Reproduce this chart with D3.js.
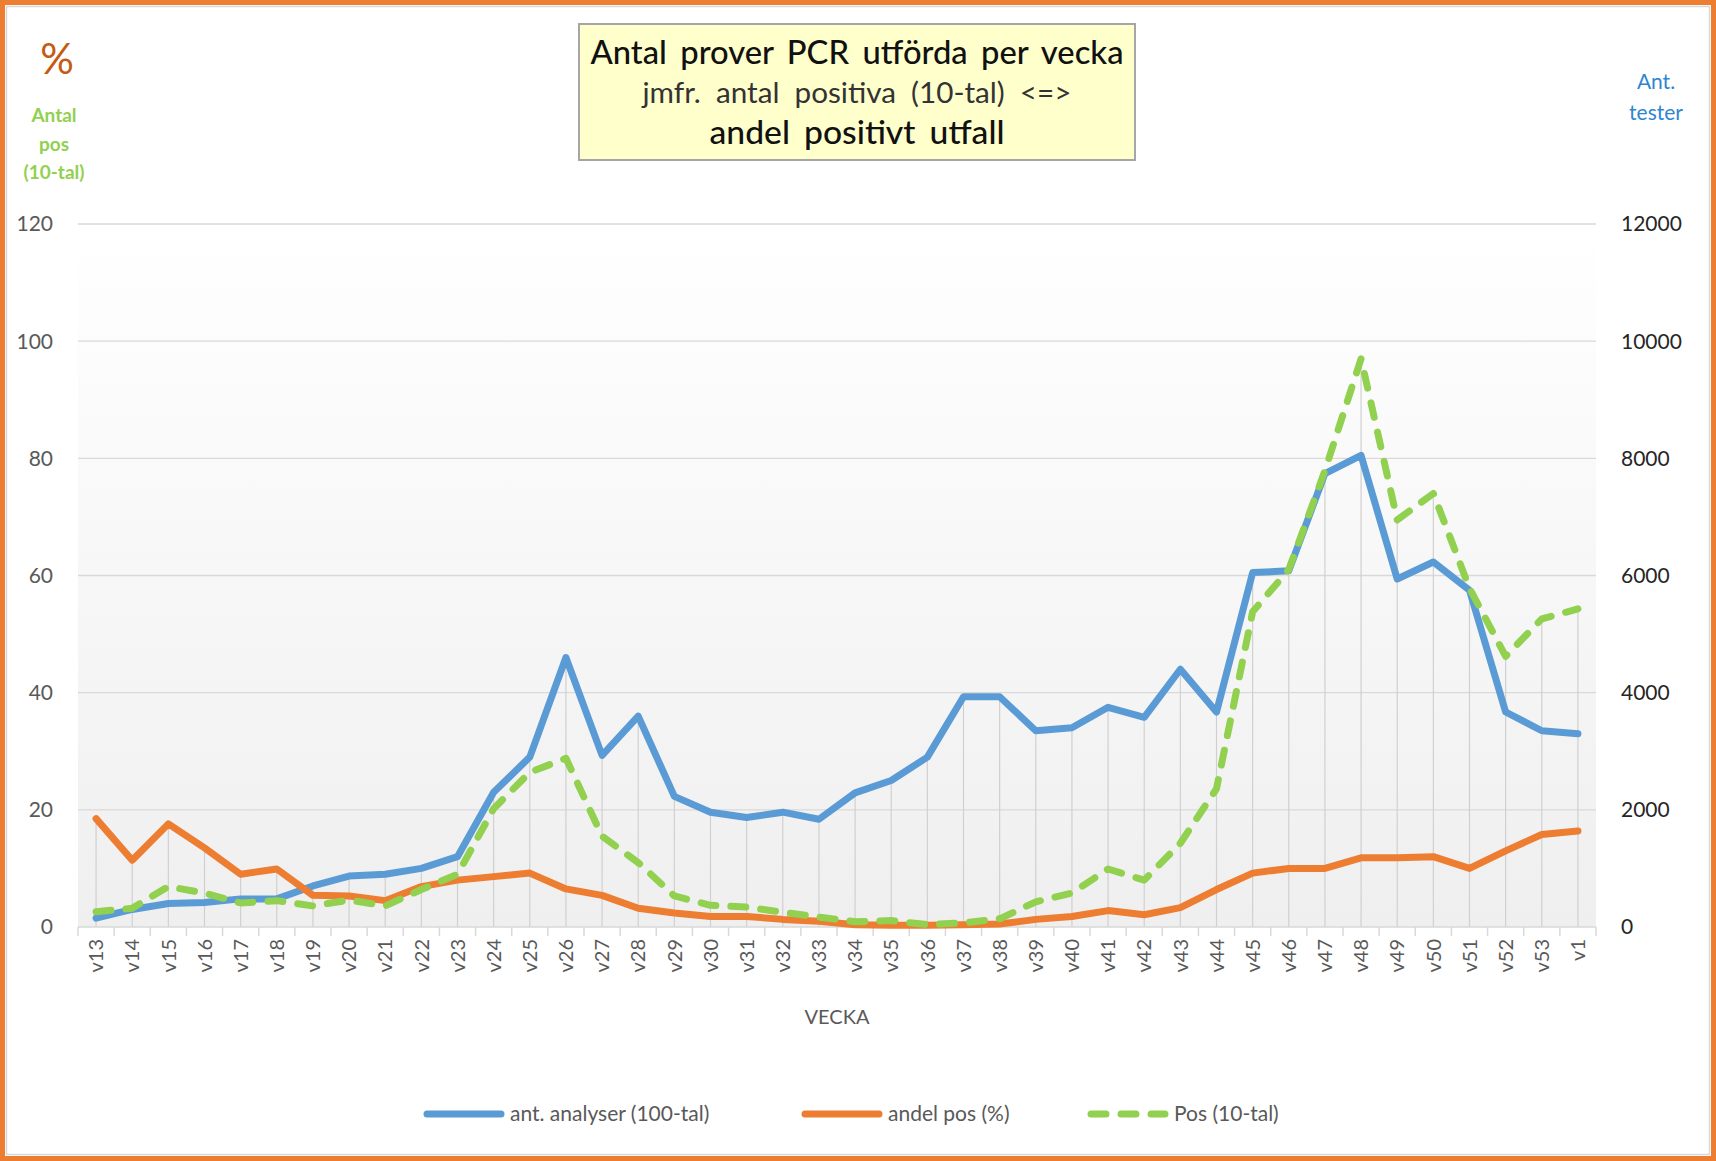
<!DOCTYPE html>
<html>
<head>
  <meta charset="UTF-8">
  <style>
    body { margin: 0; background: #fff; }
    svg { display: block; font-family: Lato, "Noto Sans", sans-serif; }
  </style>
</head>
<body>
  <svg id="chart"></svg>
  <script src="https://d3js.org/d3.v7.min.js"></script>
  <script>
    let width = 1716, height = 1161;

    // data
    const weeks = ["v13","v14","v15","v16","v17","v18","v19","v20","v21","v22","v23","v24","v25","v26","v27","v28","v29","v30","v31","v32","v33","v34","v35","v36","v37","v38","v39","v40","v41","v42","v43","v44","v45","v46","v47","v48","v49","v50","v51","v52","v53","v1"];
    // ant. analyser (number of tests, right axis)
    const analyser = [150,300,400,420,480,480,700,870,900,1000,1200,2300,2900,4600,2930,3600,2230,1960,1870,1960,1840,2290,2500,2900,3930,3930,3350,3400,3750,3580,4400,3670,6050,6080,7740,8050,5940,6230,5750,3670,3350,3300];
    // andel pos (%)
    const andelPos = [18.5,11.4,17.6,13.5,9,9.9,5.4,5.3,4.5,6.9,8,8.6,9.2,6.5,5.4,3.2,2.4,1.8,1.8,1.3,1,0.4,0.3,0.3,0.4,0.5,1.3,1.8,2.8,2.1,3.3,6.4,9.2,10,10,11.8,11.8,12,10,13,15.8,16.4];
    // Pos (10-tal)
    const pos10 = [2.6,3.2,6.9,5.8,4.1,4.5,3.6,4.6,3.6,6.4,9,20.2,26.4,28.8,15.5,11,5.3,3.7,3.4,2.5,1.7,0.9,1.1,0.4,0.7,1.4,4.3,5.8,9.9,8,14.3,23.6,53.8,61,77.9,97,69.5,74,57.8,46.2,52.6,54.3];
    const leftTicks = [0,20,40,60,80,100,120];
    const rightTicks = [0,2000,4000,6000,8000,10000,12000];

    const blue = "#5B9BD5", orange = "#ED7D31", green = "#92D050";

    let svg = d3.select("#chart")
      .attr("width", width)
      .attr("height", height);

    const plotLeft = 78, plotRight = 1596, plotTop = 224, plotBottom = 927;

    let x = d3.scaleBand().domain(weeks).range([plotLeft, plotRight]);
    let yL = d3.scaleLinear().domain([0, 120]).range([plotBottom, plotTop]);
    let yR = d3.scaleLinear().domain([0, 12000]).range([plotBottom, plotTop]);
    const cx = d => x(d) + x.bandwidth() / 2;

    // background gradient of plot area
    let defs = svg.append("defs");
    let grad = defs.append("linearGradient").attr("id", "bg")
      .attr("x1", 0).attr("y1", 0).attr("x2", 0).attr("y2", 1);
    grad.append("stop").attr("offset", "0%").attr("stop-color", "#ffffff");
    grad.append("stop").attr("offset", "100%").attr("stop-color", "#efefef");

    svg.append("rect")
      .attr("x", plotLeft).attr("y", plotTop)
      .attr("width", plotRight - plotLeft).attr("height", plotBottom - plotTop)
      .attr("fill", "url(#bg)");

    // horizontal gridlines
    svg.append("g").selectAll("line")
      .data(leftTicks.slice(1))
      .enter().append("line")
      .attr("x1", plotLeft).attr("x2", plotRight)
      .attr("y1", d => yL(d)).attr("y2", d => yL(d))
      .attr("stroke", "#d9d9d9").attr("stroke-width", 1.3);

    // drop lines
    svg.append("g").selectAll("line")
      .data(weeks)
      .enter().append("line")
      .attr("x1", d => cx(d)).attr("x2", d => cx(d))
      .attr("y1", plotBottom)
      .attr("y2", (d, i) => yL(Math.max(analyser[i] / 100, andelPos[i], pos10[i])))
      .attr("stroke", "#d0d0d0").attr("stroke-width", 1.2);

    // x axis
    let xAxis = svg.append("g");
    xAxis.append("line")
      .attr("x1", plotLeft).attr("x2", plotRight)
      .attr("y1", plotBottom).attr("y2", plotBottom)
      .attr("stroke", "#d9d9d9").attr("stroke-width", 1.5);
    xAxis.selectAll("line.tick")
      .data(weeks.concat(["end"]))
      .enter().append("line").attr("class", "tick")
      .attr("x1", (d, i) => plotLeft + i * x.bandwidth())
      .attr("x2", (d, i) => plotLeft + i * x.bandwidth())
      .attr("y1", plotBottom).attr("y2", plotBottom + 9)
      .attr("stroke", "#d9d9d9").attr("stroke-width", 1.5);
    xAxis.selectAll("text")
      .data(weeks)
      .enter().append("text")
      .attr("transform", d => "translate(" + cx(d) + "," + (plotBottom + 12) + ") rotate(-90)")
      .attr("text-anchor", "end")
      .attr("dy", "0.36em")
      .attr("fill", "#595959")
      .style("font-size", "20px")
      .text(d => d);

    svg.append("text")
      .attr("x", 837).attr("y", 1024)
      .attr("text-anchor", "middle")
      .attr("fill", "#595959")
      .style("font-size", "20px")
      .text("VECKA");

    // left axis labels
    svg.append("g").selectAll("text")
      .data(leftTicks)
      .enter().append("text")
      .attr("x", 53).attr("y", d => yL(d))
      .attr("dy", "0.35em")
      .attr("text-anchor", "end")
      .attr("fill", "#595959")
      .style("font-size", "21px")
      .text(d => d);

    // right axis labels
    svg.append("g").selectAll("text")
      .data(rightTicks)
      .enter().append("text")
      .attr("x", 1621).attr("y", d => yR(d))
      .attr("dy", "0.35em")
      .attr("fill", "#262626")
      .style("font-size", "21px")
      .text(d => d);

    // series
    let line = d3.line().x(d => cx(d.w)).y(d => d.y);

    svg.append("path")
      .datum(weeks.map((w, i) => ({ w: w, y: yR(analyser[i]) })))
      .attr("d", line)
      .attr("fill", "none").attr("stroke", blue)
      .attr("stroke-width", 7).attr("stroke-linejoin", "round").attr("stroke-linecap", "round");

    svg.append("path")
      .datum(weeks.map((w, i) => ({ w: w, y: yL(andelPos[i]) })))
      .attr("d", line)
      .attr("fill", "none").attr("stroke", orange)
      .attr("stroke-width", 7).attr("stroke-linejoin", "round").attr("stroke-linecap", "round");

    svg.append("path")
      .datum(weeks.map((w, i) => ({ w: w, y: yL(pos10[i]) })))
      .attr("d", line)
      .attr("fill", "none").attr("stroke", green)
      .attr("stroke-width", 7).attr("stroke-linejoin", "round").attr("stroke-linecap", "round")
      .attr("stroke-dasharray", "15 15");

    // title box
    svg.append("rect")
      .attr("x", 579).attr("y", 24).attr("width", 556).attr("height", 136)
      .attr("fill", "#FFFFCC").attr("stroke", "#a6a6a6").attr("stroke-width", 2);

    // w = full line width, gap = space between words in the original
    const titleLines = [
      { text: "Antal prover PCR utförda per vecka", y: 64, weight: 500, fill: "#111", w: 533, gap: 13 },
      { text: "jmfr. antal positiva (10-tal) <=>", y: 103, weight: 400, fill: "#333", w: 429, gap: 15 },
      { text: "andel positivt utfall", y: 144, weight: 500, fill: "#111", w: 295, gap: 14 }
    ];
    titleLines.forEach(t => {
      let words = t.text.split(" ");
      let probe = svg.append("text").style("font-size", "30px").style("font-weight", t.weight);
      let inked = 0;
      words.forEach(wd => { probe.text(wd); inked += probe.node().getComputedTextLength(); });
      probe.remove();
      let gaps = words.length - 1;
      let size = 30 * (t.w - gaps * t.gap) / inked;
      let el = svg.append("text")
        .attr("x", 857).attr("y", t.y).attr("text-anchor", "middle")
        .attr("fill", t.fill).style("font-size", size + "px").style("font-weight", t.weight)
        .text(t.text);
      let natural = el.node().getComputedTextLength();
      el.style("word-spacing", ((t.w - natural) / gaps) + "px");
    });

    // left axis titles
    svg.append("text")
      .attr("x", 57).attr("y", 74).attr("text-anchor", "middle")
      .attr("fill", "#C55A11").style("font-size", "42px")
      .text("%");
    svg.append("g").selectAll("text")
      .data(["Antal", "pos", "(10-tal)"])
      .enter().append("text")
      .attr("x", 54).attr("y", (d, i) => 122 + i * 28.5)
      .attr("text-anchor", "middle")
      .attr("fill", green).style("font-size", "19px").style("font-weight", 700)
      .text(d => d);

    // right axis title
    svg.append("g").selectAll("text")
      .data(["Ant.", "tester"])
      .enter().append("text")
      .attr("x", 1656).attr("y", (d, i) => 89 + i * 31)
      .attr("text-anchor", "middle")
      .attr("fill", "#2E86D1").style("font-size", "21px")
      .text(d => d);

    // legend
    const legendItems = [
      { name: "ant. analyser (100-tal)", color: blue, x: 424, dash: null },
      { name: "andel pos (%)", color: orange, x: 802, dash: null },
      { name: "Pos (10-tal)", color: green, x: 1088, dash: "15 15" }
    ];
    let legend = svg.append("g").selectAll("g")
      .data(legendItems)
      .enter().append("g");
    legend.append("line")
      .attr("x1", d => d.x + 3).attr("x2", d => d.x + 77)
      .attr("y1", 1114).attr("y2", 1114)
      .attr("stroke", d => d.color).attr("stroke-width", 7)
      .attr("stroke-linecap", "round")
      .attr("stroke-dasharray", d => d.dash);
    legend.append("text")
      .attr("x", d => d.x + 86).attr("y", 1114).attr("dy", "0.35em")
      .attr("fill", "#595959").style("font-size", "21px")
      .text(d => d.name);

    // frame
    svg.append("rect")
      .attr("x", 6.5).attr("y", 6.5).attr("width", width - 13).attr("height", height - 13)
      .attr("fill", "none").attr("stroke", "#d9d9d9").attr("stroke-width", 1.5);
    svg.append("rect")
      .attr("x", 2.5).attr("y", 2.5).attr("width", width - 5).attr("height", height - 5)
      .attr("fill", "none").attr("stroke", orange).attr("stroke-width", 5);
  </script>
</body>
</html>
